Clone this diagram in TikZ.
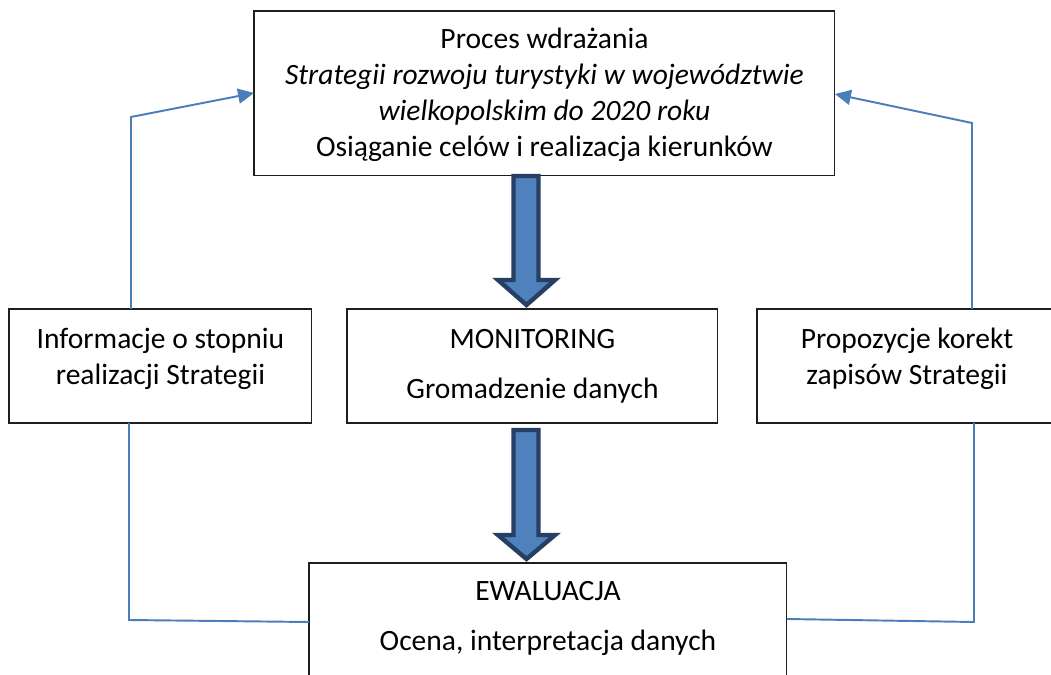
\documentclass[tikz,border=0pt]{standalone}
\usepackage{fontspec}
\setmainfont{Carlito}
\usepackage{xcolor}
\definecolor{LinkBlue}{HTML}{4A7EBB}
\definecolor{ArrowFill}{HTML}{4F81BD}
\definecolor{ArrowEdge}{HTML}{263F63}
\definecolor{BoxLine}{HTML}{1E1E1E}
\usepackage{tikz}
\usetikzlibrary{arrows.meta, positioning, calc}
\tikzset{
  % Box styles
  framebox/.style={rectangle, draw=BoxLine, line width=0.6pt, fill=white, anchor=north west, inner sep=0pt, outer sep=0pt},
  boxtext/.style={font=\fontsize{16.8}{20.5}\selectfont, align=center, inner sep=0pt, outer sep=0pt},
  % Arrow styles
  link/.style={draw=LinkBlue, line width=1.1pt, line join=miter},
  linkarrow/.style={link, -{Triangle[length=0.32cm, width=0.30cm]}},
  blockarrow/.style={draw=ArrowEdge, fill=ArrowFill, line width=2.5pt, line join=miter}
}

\begin{document}
\begin{tikzpicture}[x=0.02cm, y=-0.02cm]
  \useasboundingbox (0,0) rectangle (1051,675);

  % Boxes
  \node[framebox, minimum width=11.62cm, minimum height=3.30cm] (proces) at (254,11) {};
  \node[framebox, minimum width=6.06cm, minimum height=2.28cm] (info) at (9,309) {};
  \node[framebox, minimum width=7.42cm, minimum height=2.28cm] (monit) at (347,309) {};
  \node[framebox, minimum width=6.00cm, minimum height=2.28cm] (propoz) at (757,309) {};
  \node[framebox, minimum width=9.56cm, minimum height=2.60cm] (ewal) at (309,563) {};

  % Texts
  \node[boxtext, below=0.236cm of proces.north] (procesText) {\strut Proces wdrażania\\
    \itshape Strategii rozwoju turystyki w województwie\\
    \itshape wielkopolskim do 2020 roku\\
    Osiąganie celów i realizacja kierunków};
  \node[boxtext, below=0.276cm of info.north] (infoText) {\strut Informacje o stopniu\\realizacji Strategii};
  \node[boxtext, below=0.276cm of monit.north] (monitText) {\strut MONITORING\\[8pt]Gromadzenie danych};
  \node[boxtext, below=0.276cm of propoz.north] (propozText) {\strut Propozycje korekt\\zapisów Strategii};
  \node[boxtext, below=0.236cm of ewal.north] (ewalText) {\strut EWALUACJA\\[8.5pt]Ocena, interpretacja danych};

  % Block arrows
  \draw[blockarrow] (proces.south -| 513.5,0) -- (proces.south -| 538.5,0) -- (538.5,280) -- (555,280)
    -- ($(monit.north -| 526.5,0)+(0,-4)$) -- (498,280) -- (513.5,280) -- cycle;
  \draw[blockarrow] ($(monit.south -| 513.5,0)+(0,7)$) -- ($(monit.south -| 538.5,0)+(0,7)$) -- (538.5,535) -- (555,535)
    -- ($(ewal.north -| 526.5,0)+(0,-4)$) -- (498,535) -- (513.5,535) -- cycle;

  % Feedback lines
  \draw[link] (ewal.west |- 0,622) -- (129,620) -- (info.south -| 129,0);
  \draw[linkarrow] (info.north -| 131,0) -- (131,117) -- (proces.west |- 0,93);
  \draw[link] (ewal.east |- 0,619) -- (974,622) -- (propoz.south -| 974,0);
  \draw[linkarrow] (propoz.north -| 972,0) -- (972,123) -- (proces.east |- 0,94);
\end{tikzpicture}
\end{document}
